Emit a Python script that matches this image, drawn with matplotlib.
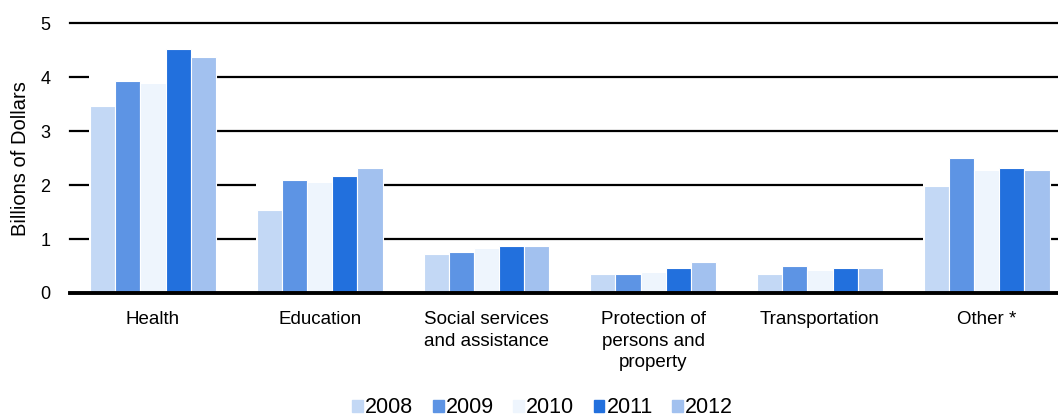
import matplotlib
matplotlib.use("Agg")
import matplotlib.pyplot as plt
from matplotlib.patches import Patch
import numpy as np

plt.rcParams['font.family'] = ['Liberation Sans', 'DejaVu Sans']

categories = ["Health", "Education", "Social services\nand assistance",
              "Protection of\npersons and\nproperty", "Transportation", "Other *"]
years = ["2008", "2009", "2010", "2011", "2012"]
values = {
    "2008": [3.46, 1.54, 0.72, 0.35, 0.35, 1.99],
    "2009": [3.94, 2.09, 0.76, 0.35, 0.50, 2.50],
    "2010": [3.90, 2.06, 0.84, 0.39, 0.43, 2.28],
    "2011": [4.53, 2.17, 0.87, 0.47, 0.47, 2.31],
    "2012": [4.38, 2.31, 0.87, 0.58, 0.47, 2.28],
}
colors = ["#c3d8f5", "#5d94e4", "#eef5fd", "#2270dd", "#a2c1ef"]
y_ticks = [0, 1, 2, 3, 4, 5]

fig = plt.figure(figsize=(10.58, 4.2), dpi=100)
ax = fig.add_axes([0.0658, 0.3024, 0.9456, 0.6417])

x = np.arange(len(categories))
n = len(years)
slot = 0.151
group_w = slot * n

# gridlines
for t in y_ticks[1:]:
    ax.axhline(t, color="black", lw=1.6, zorder=1, clip_on=False)
ax.axhline(0, color="black", lw=2.8, zorder=5, clip_on=False)

# white backing behind each group up to its tallest bar
tallest = np.max([values[y] for y in years], axis=0)
ax.bar(x, tallest, width=group_w + 0.012, color="white", zorder=2)

for i, (yr, c) in enumerate(zip(years, colors)):
    offs = (i - (n - 1) / 2) * slot
    ax.bar(x + offs, values[yr], width=slot, color=c, edgecolor="white",
           linewidth=0.8, zorder=3, label=yr)

ax.set_xlim(-0.5, 5.5)
ax.set_ylim(0, 5)
ax.set_yticks(y_ticks)
ax.set_yticklabels([str(t) for t in y_ticks], fontsize=13)
ax.set_xticks(x)
ax.set_xticklabels(categories, fontsize=13.5, linespacing=1.35, va="top")
ax.tick_params(axis="both", length=0)
ax.tick_params(axis="x", pad=13)
ax.tick_params(axis="y", pad=14)
for s in ax.spines.values():
    s.set_visible(False)
ax.set_ylabel("Billions of Dollars", fontsize=14.5, labelpad=7)

handles = [Patch(facecolor=c, edgecolor=c, label=yr) for yr, c in zip(years, colors)]
fig.legend(handles=handles, loc="center", bbox_to_anchor=(0.513, 0.029), ncol=5,
           frameon=False, fontsize=15.5, handlelength=0.5, handleheight=0.5,
           handletextpad=0.1, columnspacing=0.9)

fig.savefig("out.png", dpi=100)
